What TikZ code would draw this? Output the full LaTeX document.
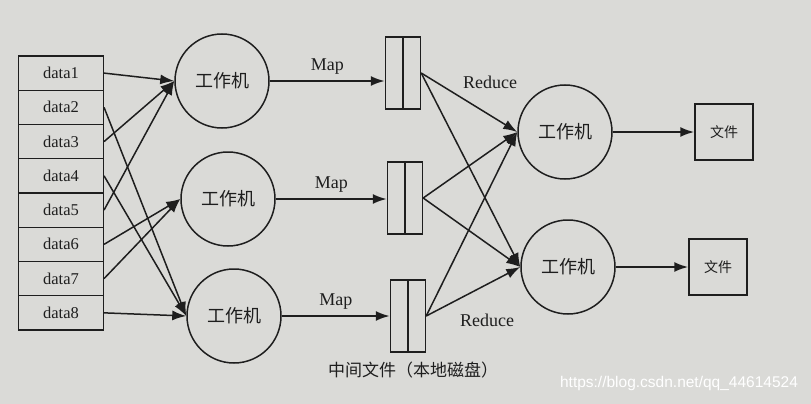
\documentclass[tikz,border=0pt]{standalone}
\usepackage{fontspec}
\setmainfont{Liberation Serif}
\newfontfamily\cjk{Noto Sans CJK SC}
\newfontfamily\wmfont{Liberation Sans}
\usetikzlibrary{arrows.meta}
\definecolor{paper}{RGB}{218,218,215}
\definecolor{ink}{RGB}{30,30,30}

\begin{document}
\begin{tikzpicture}[x=1pt,y=-1pt,
    cell/.style={draw=ink,line width=1.1pt,minimum width=85pt,minimum height=34.25pt,inner sep=0pt,text=ink,font=\fontsize{16.5}{16.5}\selectfont},
    worker/.style={draw=ink,circle,line width=1.5pt,minimum size=94pt,inner sep=0pt,text=ink,font=\cjk\fontsize{18}{18}\selectfont},
    buffer/.style={draw=ink,line width=1.4pt,minimum width=35pt,minimum height=72pt,inner sep=0pt},
    outfile/.style={draw=ink,line width=1.4pt,minimum width=58pt,minimum height=56pt,inner sep=0pt,text=ink,font=\cjk\fontsize{14}{14}\selectfont},
    arr/.style={-{Latex[length=14pt,width=10pt]},line width=1.5pt,draw=ink},
    lbl/.style={text=ink,font=\fontsize{18}{18}\selectfont}]
      \fill[paper] (0,0) rectangle (811,404);
      \useasboundingbox (0,0) rectangle (811,404);

      % input splits
      \foreach \i in {1,...,8}
        \node[cell] (d\i) at (61,{73.1+(\i-1)*34.25}) {data\i};

      % map workers
      \node[worker] (w1) at (222,81) {工作机};
      \node[worker] (w2) at (228,199) {工作机};
      \node[worker] (w3) at (234,316) {工作机};

      \draw[arr] (d1.east) -- (w1.west);
      \draw[arr] (d3.east) -- (w1.west);
      \draw[arr] (d5.east) -- (w1.west);
      \draw[arr] (d6.east) -- (w2.west);
      \draw[arr] (d7.east) -- (w2.west);
      \draw[arr] (d2.east) -- (w3.west);
      \draw[arr] (d4.east) -- (w3.west);
      \draw[arr] (d8.east) -- (w3.west);

      % intermediate files
      \node[buffer] (buf1) at (403,73) {};
      \node[buffer] (buf2) at (405,198) {};
      \node[buffer] (buf3) at (408,316) {};
      \foreach \b in {buf1,buf2,buf3}
        \draw[ink,line width=1.4pt] (\b.north) -- (\b.south);
      \node[text=ink,font=\cjk\fontsize{17}{17}\selectfont] (caption) at (413,370) {中间文件（本地磁盘）};

      \draw[arr,line width=2pt] (w1.east) -- (w1.east -| buf1.west) node[midway,above,lbl,yshift=2pt] {Map};
      \draw[arr,line width=2pt] (w2.east) -- (w2.east -| buf2.west) node[midway,above,lbl,yshift=2pt] {Map};
      \draw[arr,line width=2pt] (w3.east) -- (w3.east -| buf3.west) node[midway,above,lbl,yshift=2pt] {Map};

      % reduce workers
      \node[worker] (r1) at (565,132) {工作机};
      \node[worker] (r2) at (568,267) {工作机};

      \foreach \b in {buf1,buf2,buf3}
        \foreach \r in {r1,r2}
          \draw[arr] (\b.east) -- (\r.west);
      \node[lbl] (red1) at (490,82) {Reduce};
      \node[lbl] (red2) at (487,320) {Reduce};

      % output files
      \node[outfile] (f1) at (724,132) {文件};
      \node[outfile] (f2) at (718,267) {文件};
      \draw[arr,line width=2pt] (r1.east) -- (f1.west);
      \draw[arr,line width=2pt] (r2.east) -- (f2.west);

      \node[text=white,font=\wmfont\fontsize{15.5}{15.5}\selectfont] (mark) at (679,383) {https://blog.csdn.net/qq\_44614524};
    \end{tikzpicture}
\end{document}
